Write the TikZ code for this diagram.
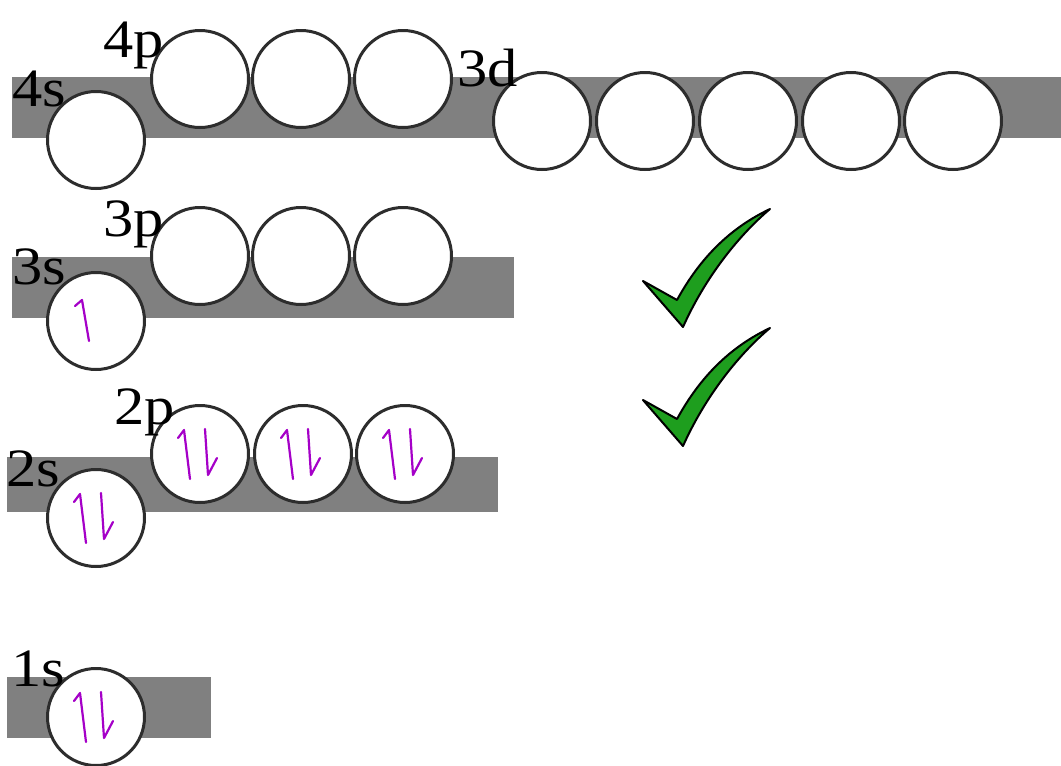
\documentclass[tikz,border=0pt]{standalone}
\usepackage{fontspec}
\setmainfont{Liberation Serif}
\definecolor{bargray}{RGB}{128,128,128}
\definecolor{ringgray}{RGB}{45,45,45}
\definecolor{spincol}{RGB}{165,0,200}
\definecolor{tickgreen}{RGB}{30,158,30}
\newcommand{\orbtxt}[1]{\scalebox{1.12}[1]{#1}}
\begin{document}
\begin{tikzpicture}[x=1pt,y=-1pt,
  bar/.style={fill=bargray,draw=none},
  orb/.style={circle,draw=ringgray,line width=3pt,fill=white,minimum size=97pt,inner sep=0pt},
  lbl/.style={anchor=base west,inner sep=0pt,font=\fontsize{54}{54}\selectfont},
  spin/.style={draw=spincol,line width=2.2pt,line cap=round,line join=round},
  tick/.style={fill=tickgreen,draw=black,line width=2pt,line join=round},
  updown/.pic={\draw[spin] (-22,-16) -- (-16,-24) -- (-10,25);
               \draw[spin] (5,-25) -- (8,21) -- (17,4);},
  uponly/.pic={\draw[spin] (-21,-15) -- (-14,-21) -- (-7,20);}
]
\useasboundingbox (0,0) rectangle (1061,766);
% bars
\fill[bar] (12,77) rectangle (1061,138);
\fill[bar] (12,257) rectangle (514,318);
\fill[bar] (7,457) rectangle (498,512);
\fill[bar] (7,677) rectangle (211,738);
% shell 4
\node[orb] (s4) at (96,140) {};
\node[orb] (p4a) at (200,79) {};
\node[orb] (p4b) at (301,79) {};
\node[orb] (p4c) at (403,79) {};
\node[orb] (d3a) at (542,121) {};
\node[orb] (d3b) at (645,121) {};
\node[orb] (d3c) at (748,121) {};
\node[orb] (d3d) at (851,121) {};
\node[orb] (d3e) at (953,121) {};
% shell 3
\node[orb] (s3) at (96,321) {};
\node[orb] (p3a) at (200,256) {};
\node[orb] (p3b) at (301,256) {};
\node[orb] (p3c) at (403,256) {};
% shell 2
\node[orb] (s2) at (96,518) {};
\node[orb] (p2a) at (200,454) {};
\node[orb] (p2b) at (303,454) {};
\node[orb] (p2c) at (405,454) {};
% shell 1
\node[orb] (s1) at (96,717) {};
% labels
\node[lbl] (l4s) at (12,106) {\orbtxt{4s}};
\node[lbl] (l4p) at (103,57) {\orbtxt{4p}};
\node[lbl] (l3d) at (457,86) {\orbtxt{3d}};
\node[lbl] (l3p) at (103,236) {\orbtxt{3p}};
\node[lbl] (l3s) at (12,284) {\orbtxt{3s}};
\node[lbl] (l2p) at (114,424) {\orbtxt{2p}};
\node[lbl] (l2s) at (6,486) {\orbtxt{2s}};
\node[lbl] (l1s) at (11,686) {\orbtxt{1s}};
% electrons
\pic at (s3) {uponly};
\pic at (s2) {updown};
\pic at (p2a) {updown};
\pic at (p2b) {updown};
\pic at (p2c) {updown};
\pic at (s1) {updown};
% ticks
\path[tick] (643,281) -- (677,300) .. controls (700,258) and (730,228) .. (770,209)
   .. controls (738,236) and (705,278) .. (683,327) -- cycle;
\path[tick] (643,400) -- (677,419) .. controls (700,377) and (730,347) .. (770,328)
   .. controls (738,355) and (705,397) .. (683,446) -- cycle;
\end{tikzpicture}
\end{document}
